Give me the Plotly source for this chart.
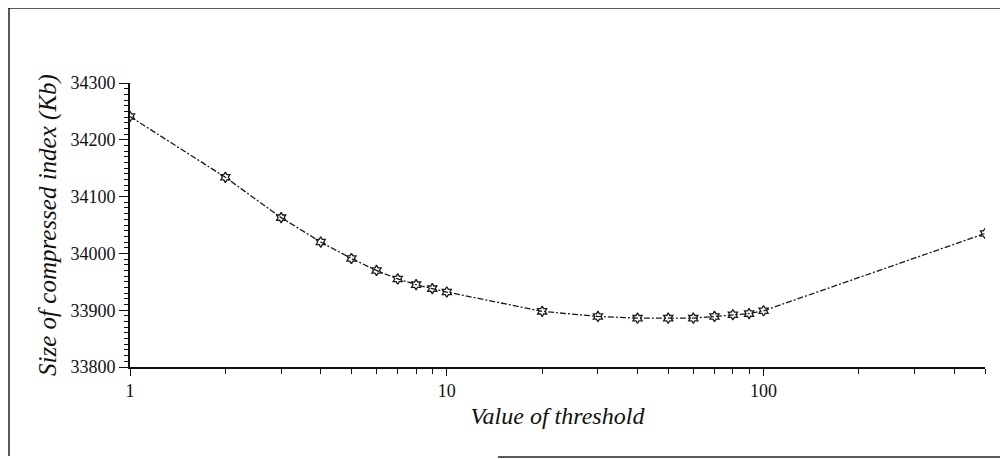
import plotly.graph_objects as go

thresholds = [1, 2, 3, 4, 5, 6, 7, 8, 9, 10, 20, 30, 40, 50, 60, 70, 80, 90, 100, 500]
sizes_kb = [34241, 34134, 34063, 34020, 33991, 33970, 33955, 33945, 33938, 33932,
            33898, 33889, 33886, 33886, 33886, 33889, 33892, 33894, 33899, 34035]
x_major_ticks = [1, 10, 100]
x_minor_ticks = [2, 3, 4, 5, 6, 7, 8, 9, 20, 30, 40, 50, 60, 70, 80, 90, 200, 300, 400, 500]
y_ticks = [33800, 33900, 34000, 34100, 34200, 34300]

font_family = "Liberation Serif, DejaVu Serif, serif"

fig = go.Figure()
fig.add_trace(go.Scatter(
    x=thresholds, y=sizes_kb, mode="lines+markers",
    line=dict(color="#1a1a1a", width=1.3, dash="6px,2px,2px,2px"),
    marker=dict(symbol="hexagram-open", size=8, color="#1a1a1a", line=dict(width=1.3, color="#1a1a1a")),
    showlegend=False,
))

# page is offset by the 8px body margin of the html page
OFF = 8
W, H = 1000, 451
L, R, T, B = 130 - OFF, 23, 83 - OFF, 92
pw, ph = W - L - R, H - T - B

def px(x):
    return (x - OFF - L) / pw

def py(y):
    return (H - B - (y - OFF)) / ph

fig.update_layout(
    width=W, height=H,
    margin=dict(l=L, r=R, t=T, b=B),
    paper_bgcolor="white", plot_bgcolor="white",
    font=dict(family=font_family, size=18, color="#111"),
    xaxis=dict(
        type="log", range=[0, 2.69897], automargin=False,
        tickvals=x_major_ticks, ticktext=[str(v) for v in x_major_ticks],
        ticks="outside", ticklen=7, tickwidth=1.3, tickcolor="#111",
        showline=True, linecolor="#111", linewidth=1.6,
        showgrid=False, zeroline=False,
        minor=dict(tickvals=x_minor_ticks, ticks="outside", ticklen=5, tickwidth=1.1, tickcolor="#111", showgrid=False),
        title=dict(text="<i>Value of threshold</i>", font=dict(size=24, family=font_family), standoff=7),
        tickfont=dict(size=18, family=font_family),
    ),
    yaxis=dict(
        range=[33800, 34300], automargin=False,
        tickvals=y_ticks, ticktext=[str(v) for v in y_ticks],
        ticks="outside", ticklen=9, tickwidth=1.3, tickcolor="#111",
        showline=True, linecolor="#111", linewidth=1.6,
        showgrid=False, zeroline=False,
        minor=dict(dtick=10, ticks="outside", ticklen=4, tickwidth=1, tickcolor="#111", showgrid=False),
        title=dict(text="<i>Size of compressed index (Kb)</i>", font=dict(size=25, family=font_family), standoff=7),
        tickfont=dict(size=18, family=font_family),
    ),
    shapes=[
        dict(type="line", xref="paper", yref="paper", x0=px(8), x1=px(1008), y0=py(8), y1=py(8), line=dict(color="#222", width=1.5)),
        dict(type="line", xref="paper", yref="paper", x0=px(9), x1=px(9), y0=py(8), y1=py(456), line=dict(color="#222", width=1.5)),
        dict(type="line", xref="paper", yref="paper", x0=px(498), x1=px(1008), y0=py(457), y1=py(457), line=dict(color="#222", width=1.5)),
    ],
)

fig.write_html("out.html")
